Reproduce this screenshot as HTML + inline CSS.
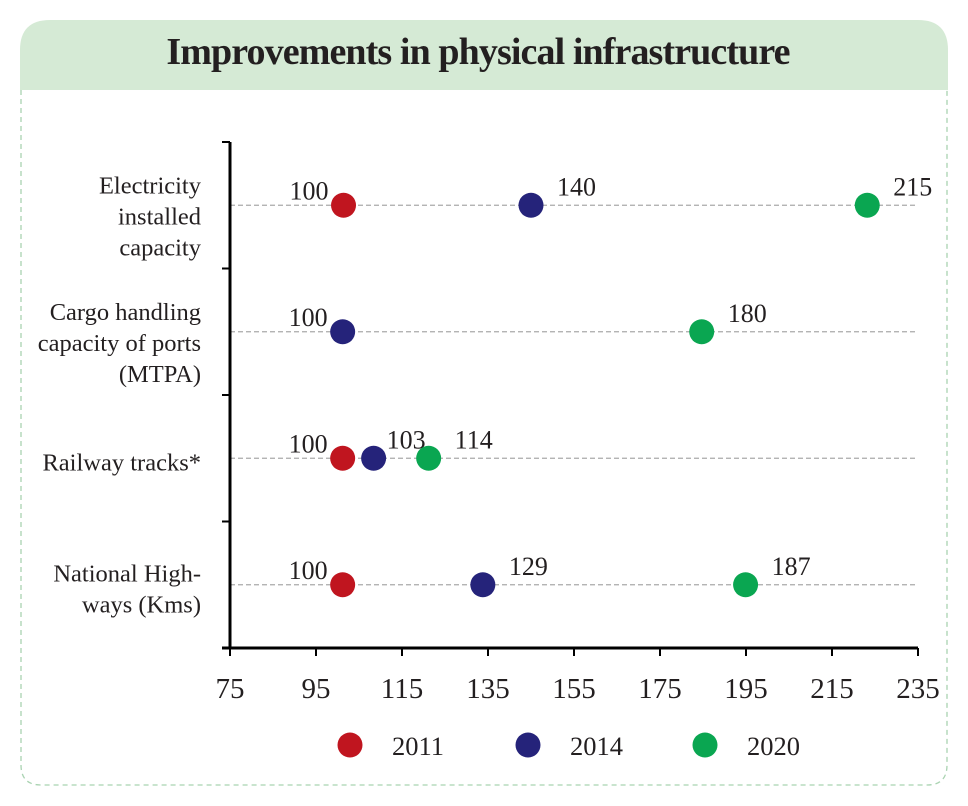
<!DOCTYPE html>
<html><head><meta charset="utf-8"><style>
body{margin:0;background:#fff;width:968px;height:806px;overflow:hidden}
svg{display:block;font-family:"Liberation Serif",serif}
</style></head><body>
<svg width="968" height="806">
<path d="M20,90 V50 Q20,20 50,20 H918 Q948,20 948,50 V90 Z" fill="#d5ead5"/>
<path d="M21,90 V765 Q21,785 41,785 H927 Q947,785 947,765 V90" fill="none" stroke="#a9d3b1" stroke-width="1.3" stroke-dasharray="5,4"/>
<text x="478" y="64" text-anchor="middle" font-size="38" font-weight="bold" fill="#231f20" letter-spacing="-0.9">Improvements in physical infrastructure</text>
<g id="plot"></g>
</svg>
<script>
const categories=[["Electricity","installed","capacity"],["Cargo handling","capacity of ports","(MTPA)"],["Railway tracks*"],["National High-","ways (Kms)"]];
const series=["2011","2014","2020"];
const colors=["#c0151f","#25237a","#0aa651"];
const v2011=[101.4,null,101.2,101.2];
const v2014=[145,101.2,108.4,133.8];
const v2020=[223.2,184.7,121.2,194.9];
const lab2011=["100",null,"100","100"];
const lab2014=["140","100","103","129"];
const lab2020=["215","180","114","187"];
const xTicks=[75,95,115,135,155,175,195,215,235];
const NS="http://www.w3.org/2000/svg";
const g=document.getElementById('plot');
const X0=230,X1=918,Y0=142,Y1=648;
const x=v=>X0+(v-75)/(235-75)*(X1-X0);
const band=(Y1-Y0)/categories.length;
const y=i=>Y0+band*(i+0.5);
function el(t,a,p){const e=document.createElementNS(NS,t);for(const k in a)e.setAttribute(k,a[k]);(p||g).appendChild(e);return e;}
categories.forEach((c,i)=>{
 const l=el('line',{x1:X0,x2:X1,y1:y(i),y2:y(i),stroke:'#aaa','stroke-width':1.3,'stroke-dasharray':'5,3'});
 
 
 const lh=31,st=y(i)-(c.length-1)*lh/2+8+(c.length>2?11:4);
 c.forEach((s,j)=>{const t=el('text',{x:201,y:st+j*lh,'text-anchor':'end','font-size':24.5,fill:'#231f20'});t.textContent=s;
 
 });
 if(i>0){const tk=el('line',{x1:X0-8,x2:X0,y1:Y0+band*i,y2:Y0+band*i,stroke:'#000','stroke-width':2});
 
 }
});
el('line',{x1:X0,x2:X0,y1:Y0,y2:Y1+1,stroke:'#000','stroke-width':3});
el('line',{x1:X0-8,x2:X0,y1:Y0,y2:Y0,stroke:'#000','stroke-width':2});
el('line',{x1:X0-8,x2:X1,y1:Y1,y2:Y1,stroke:'#000','stroke-width':3});
xTicks.forEach(v=>{
 const tk=el('line',{x1:x(v),x2:x(v),y1:Y1,y2:Y1+8,stroke:'#000','stroke-width':2});
 
 
 const t=el('text',{x:x(v),y:Y1+50,'text-anchor':'middle','font-size':29,fill:'#231f20'});t.textContent=v;
 
 
});
const vals=[v2011,v2014,v2020],labs=[lab2011,lab2014,lab2020];
vals.forEach((arr,s)=>arr.forEach((v,i)=>{
 if(v==null)return;
 const c=el('circle',{cx:x(v),cy:y(i),r:12.5,fill:colors[s]});
 
 
 const first=vals.slice(0,s).every(a=>a[i]==null);
 const nxt=s<2?vals[s+1][i]:null;
 const close=nxt!=null&&x(nxt)-x(v)<80;
 const t=el('text',{x:first?x(v)-15:x(v)+(close?13:26),y:y(i)-(first?6:10),'text-anchor':first?'end':'start','font-size':26,fill:'#231f20'});
 t.textContent=labs[s][i];
 
 
}));
const lx=[350,528,705];
series.forEach((s,k)=>{
 const c=el('circle',{cx:lx[k],cy:745,r:12.5,fill:colors[k]});
 
 
 const t=el('text',{x:lx[k]+42,y:755,'font-size':26.5,fill:'#231f20'});t.textContent=s;
 
 
});
</script>
</body></html>
